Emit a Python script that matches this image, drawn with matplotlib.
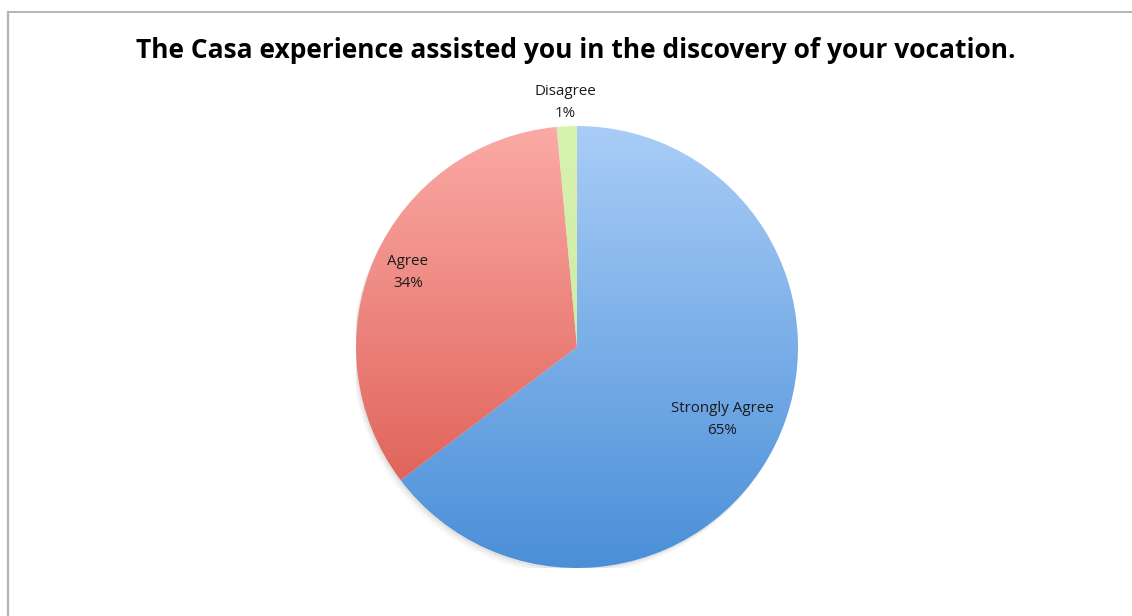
import numpy as np
import matplotlib
matplotlib.use("Agg")
import matplotlib.pyplot as plt
from matplotlib.colors import LinearSegmentedColormap
from matplotlib.patches import Circle

# Survey responses (counts)
categories = ["Strongly Agree", "Agree", "Disagree"]
counts = [44, 23, 1]
title = "The Casa experience assisted you in the discovery of your vocation."

# vertical gradients (top colour, bottom colour) per slice
gradients = [("#a9cdf7", "#4a8fd8"), ("#fbaaa5", "#d9544a"), ("#d8f2b0", "#c4e89a")]
label_radius = [0.735, 0.836, 1.108]

W, H = 1132, 616
fig = plt.figure(figsize=(W / 100, H / 100), dpi=100)
fig.patch.set_facecolor("white")

# frame lines along top and left edges
fig.add_artist(plt.Line2D([8 / W, 1], [1 - 12 / H, 1 - 12 / H], color="#b4b4b4", lw=1.4))
fig.add_artist(plt.Line2D([8 / W, 8 / W], [0, 1 - 12 / H], color="#b4b4b4", lw=1.6))

fig.text(576 / W, 1 - 51 / H, title, ha="center", va="center",
         fontsize=19, fontweight="bold", family="Open Sans", color="black")

cx, cy, r = 577, 347, 221
ax = fig.add_axes([(cx - r) / W, (H - cy - r) / H, 2 * r / W, 2 * r / H])
ax.set_xlim(-1, 1)
ax.set_ylim(-1, 1)
ax.set_aspect("equal")
ax.axis("off")

# soft shadow under the pie
for k, a in enumerate([0.10, 0.07, 0.04]):
    ax.add_patch(Circle((-0.006 * (k + 1), -0.010 * (k + 1)), 1.0, color="#777777",
                        alpha=a, lw=0, zorder=0))

wedges, _ = ax.pie(counts, startangle=90, counterclock=False, radius=1,
                   wedgeprops=dict(linewidth=0, edgecolor="none"))
ax.set_xlim(-1, 1)
ax.set_ylim(-1, 1)

grad = np.linspace(1, 0, 256).reshape(-1, 1)
for w, (top, bot) in zip(wedges, gradients):
    cmap = LinearSegmentedColormap.from_list("g", [bot, top])
    w.set_facecolor("none")
    im = ax.imshow(grad, cmap=cmap, extent=(-1, 1, -1, 1), origin="upper",
                   aspect="auto", zorder=1, interpolation="bilinear")
    im.set_clip_path(w)

total = sum(counts)
for w, name, c, rr in zip(wedges, categories, counts, label_radius):
    mid = np.deg2rad((w.theta1 + w.theta2) / 2)
    pct = f"{round(100 * c / total)}%"
    ax.text(rr * np.cos(mid), rr * np.sin(mid), f"{name}\n{pct}", ha="center", va="center",
            fontsize=10.9, family="Open Sans", color="#1a1a1a", linespacing=1.6, zorder=3)

fig.savefig("out.png", dpi=100)
